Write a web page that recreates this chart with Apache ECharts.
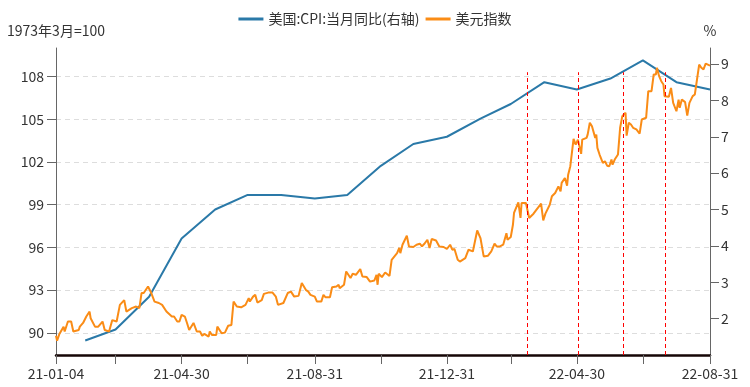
<!DOCTYPE html>
<html>
<head>
<meta charset="utf-8">
<script src="https://cdn.jsdelivr.net/npm/echarts@6/dist/echarts.min.js"></script>
<style>html,body{margin:0;padding:0;background:#fff;}#c{width:750px;height:387px;}</style>
</head>
<body>
<div id="c"></div>
<script>
// ---- data ----
const cpiDates = ['2021-01-31','2021-02-28','2021-03-31','2021-04-30','2021-05-31','2021-06-30','2021-07-31','2021-08-31','2021-09-30','2021-10-31','2021-11-30','2021-12-31','2022-01-31','2022-02-28','2022-03-31','2022-04-30','2022-05-31','2022-06-30','2022-07-31','2022-08-31'];
const cpiValues = [1.4,1.7,2.6,4.2,5.0,5.4,5.4,5.3,5.4,6.2,6.8,7.0,7.5,7.9,8.5,8.3,8.6,9.1,8.5,8.3];

const usdDates = ['2021-01-04','2021-01-05','2021-01-07','2021-01-11','2021-01-12','2021-01-15','2021-01-18','2021-01-20','2021-01-25','2021-01-26','2021-01-29',
'2021-02-01','2021-02-04','2021-02-05','2021-02-09','2021-02-12','2021-02-16','2021-02-18','2021-02-22','2021-02-25',
'2021-03-01','2021-03-04','2021-03-08','2021-03-10','2021-03-15','2021-03-19','2021-03-22','2021-03-24','2021-03-26','2021-03-30',
'2021-04-02','2021-04-05','2021-04-09','2021-04-12','2021-04-16','2021-04-21','2021-04-23','2021-04-26','2021-04-28','2021-04-30',
'2021-05-03','2021-05-05','2021-05-07','2021-05-11','2021-05-14','2021-05-17','2021-05-19','2021-05-21','2021-05-25','2021-05-26','2021-05-28',
'2021-06-01','2021-06-02','2021-06-06','2021-06-09','2021-06-12','2021-06-15','2021-06-17','2021-06-20','2021-06-24','2021-06-28',
'2021-07-01','2021-07-02','2021-07-05','2021-07-07','2021-07-09','2021-07-13','2021-07-15','2021-07-19','2021-07-23','2021-07-26','2021-07-28',
'2021-08-02','2021-08-06','2021-08-09','2021-08-12','2021-08-16','2021-08-19','2021-08-23','2021-08-25','2021-08-27','2021-08-31',
'2021-09-02','2021-09-06','2021-09-08','2021-09-10','2021-09-14','2021-09-16','2021-09-20','2021-09-22','2021-09-23','2021-09-27','2021-09-29',
'2021-10-03','2021-10-05','2021-10-08','2021-10-12','2021-10-14','2021-10-18','2021-10-21','2021-10-25','2021-10-27','2021-10-28','2021-10-29',
'2021-11-01','2021-11-04','2021-11-08','2021-11-10','2021-11-15','2021-11-17','2021-11-18','2021-11-20','2021-11-24','2021-11-26','2021-11-30',
'2021-12-03','2021-12-06','2021-12-08','2021-12-10','2021-12-13','2021-12-15','2021-12-17','2021-12-21','2021-12-24','2021-12-28','2021-12-31',
'2022-01-03','2022-01-05','2022-01-07','2022-01-10','2022-01-12','2022-01-17','2022-01-20','2022-01-24','2022-01-28','2022-01-31',
'2022-02-03','2022-02-07','2022-02-10','2022-02-13','2022-02-15','2022-02-18','2022-02-21','2022-02-24','2022-02-25','2022-02-28',
'2022-03-02','2022-03-03','2022-03-07','2022-03-09','2022-03-10','2022-03-14','2022-03-17','2022-03-21','2022-03-28','2022-03-30',
'2022-04-01','2022-04-05','2022-04-07','2022-04-10','2022-04-11','2022-04-13','2022-04-15','2022-04-16','2022-04-19','2022-04-21','2022-04-22','2022-04-24','2022-04-26','2022-04-27','2022-04-29',
'2022-05-01','2022-05-04','2022-05-05','2022-05-09','2022-05-10','2022-05-12','2022-05-14','2022-05-15','2022-05-17','2022-05-18','2022-05-19','2022-05-21','2022-05-24','2022-05-26','2022-05-28','2022-05-30',
'2022-06-01','2022-06-02','2022-06-04','2022-06-07','2022-06-09','2022-06-11','2022-06-14','2022-06-15','2022-06-17','2022-06-19','2022-06-21','2022-06-24','2022-06-27','2022-06-29','2022-06-30',
'2022-07-03','2022-07-05','2022-07-08','2022-07-10','2022-07-12','2022-07-13','2022-07-15','2022-07-17','2022-07-19','2022-07-20','2022-07-24','2022-07-26','2022-07-28','2022-07-31',
'2022-08-02','2022-08-03','2022-08-05','2022-08-08','2022-08-10','2022-08-12','2022-08-15','2022-08-17','2022-08-19','2022-08-21','2022-08-23','2022-08-25','2022-08-27','2022-08-31'];
const usdValues = [89.8,89.45,89.9,90.44,90.1,90.8,90.8,90.1,90.2,90.44,90.7,
91.15,91.5,91.03,90.44,90.44,90.8,90.2,90.1,90.9,
90.8,91.97,92.3,91.5,91.74,91.85,91.74,92.8,92.8,93.26,
92.8,92.2,92.1,91.97,91.5,91.15,91.15,90.8,90.8,91.27,
91.15,90.7,90.2,90.7,90.1,90.1,89.8,89.93,89.74,90.1,89.86,
89.86,90.44,89.98,90.02,90.5,90.56,92.2,91.85,91.8,91.97,
92.44,92.2,92.55,92.67,92.13,92.3,92.74,92.83,92.83,92.55,91.97,
92.1,92.8,92.9,92.55,92.6,93.5,93.0,92.9,92.67,92.55,
92.2,92.2,92.67,92.5,92.5,93.2,93.26,93.38,93.14,93.38,94.31,
93.85,94.15,94.08,94.48,93.96,93.92,93.6,93.68,94.08,93.38,94.15,
93.92,94.24,94.0,95.13,95.6,95.96,95.6,96.19,96.82,96.07,96.03,
96.19,96.26,96.07,96.24,96.54,95.96,96.59,96.49,96.07,96.03,95.89,
96.19,95.84,95.89,95.13,95.01,95.25,95.84,95.72,97.19,96.66,
95.37,95.42,95.72,96.26,96.07,96.07,96.19,97.0,96.54,96.73,
97.59,98.42,99.16,98.07,99.12,99.12,98.07,98.37,99.07,97.9,
98.37,99.0,99.59,99.82,99.93,100.29,99.93,100.53,100.88,100.34,101.11,101.7,102.99,103.62,103.22,
103.57,102.57,103.57,103.69,103.92,104.75,104.51,104.4,103.69,103.92,102.99,102.52,101.93,102.05,101.74,101.7,
102.17,101.81,102.17,102.52,104.4,105.22,105.45,103.85,104.75,104.63,104.4,104.28,103.99,104.98,105.1,
105.1,106.97,106.97,108.14,108.14,108.61,108.02,107.67,107.44,106.62,106.58,107.2,106.15,105.56,
106.38,105.8,106.38,106.2,105.26,106.15,106.62,106.74,107.79,108.84,108.61,108.5,108.9,108.76];

const xLabelDates = ['2021-01-04','2021-04-30','2021-08-31','2021-12-31','2022-04-30','2022-08-31'];
const xTickDates = ['2021-01-04','2021-02-28','2021-04-30','2021-06-30','2021-08-31','2021-10-31','2021-12-31','2022-02-28','2022-04-30','2022-06-30','2022-08-31'];
const leftTicks = [90,93,96,99,102,105,108];
const rightTicks = [2,3,4,5,6,7,8,9];
const markDates = ['2022-03-15','2022-05-01','2022-06-12','2022-07-21'];

// ---- helpers ----
function ts(s){ const p = s.split('-').map(Number); return new Date(p[0], p[1]-1, p[2]).getTime(); }
function pad(n){ return (n<10?'0':'')+n; }
function fmt(v){ const d = new Date(v); return pad(d.getFullYear()%100)+'-'+pad(d.getMonth()+1)+'-'+pad(d.getDate()); }

const FONT = '"Noto Sans CJK SC", "Microsoft YaHei", sans-serif';
const LEFT_MIN = 88.45, LEFT_MAX = 110;

const chart = echarts.init(document.getElementById('c'), null, {renderer:'canvas'});
chart.setOption({
  animation: false,
  backgroundColor: '#fff',
  textStyle: {fontFamily: FONT},
  legend: {
    top: 7, left: 'center', icon: 'rect', itemWidth: 25, itemHeight: 3, itemGap: 6,
    textStyle: {fontSize: 14, color: '#333', fontFamily: FONT},
    data: ['美国:CPI:当月同比(右轴)', '美元指数']
  },
  grid: {left: 56, right: 40, top: 48, bottom: 32, containLabel: false},
  xAxis: {
    type: 'value',
    min: ts(xTickDates[0]), max: ts(xTickDates[xTickDates.length-1]),
    axisLine: {show: true, onZero: false, lineStyle: {color: '#150505', width: 2.5}},
    axisTick: {show: true, length: 9, customValues: xTickDates.map(ts), lineStyle: {color: '#666'}},
    axisLabel: {customValues: xLabelDates.map(ts), formatter: fmt, fontSize: 14, color: '#333', margin: 12, fontFamily: FONT},
    splitLine: {show: false}
  },
  yAxis: [
    {
      type: 'value', name: '1973年3月=100', nameGap: 10,
      nameTextStyle: {fontSize: 14, color: '#333', fontFamily: FONT},
      min: LEFT_MIN, max: LEFT_MAX,
      axisLine: {show: true, lineStyle: {color: '#666'}},
      axisTick: {show: true, length: 9, customValues: leftTicks, lineStyle: {color: '#666'}},
      axisLabel: {customValues: leftTicks, fontSize: 14, color: '#333', margin: 12, fontFamily: FONT},
      splitLine: {show: true, lineStyle: {color: '#ddd', type: [5, 4]}}
    },
    {
      type: 'value', name: '%', nameGap: 10, position: 'right',
      nameTextStyle: {fontSize: 14, color: '#333', fontFamily: FONT},
      min: 1, max: 9.44,
      axisLine: {show: true, lineStyle: {color: '#666'}},
      axisTick: {show: true, length: 9, customValues: rightTicks, lineStyle: {color: '#666'}},
      axisLabel: {customValues: rightTicks, fontSize: 14, color: '#333', margin: 11, fontFamily: FONT},
      splitLine: {show: false}
    }
  ],
  series: [
    {
      name: '美国:CPI:当月同比(右轴)', type: 'line', yAxisIndex: 1,
      symbol: 'none', showSymbol: false,
      data: cpiDates.map((d,i)=>[ts(d), cpiValues[i]]),
      lineStyle: {color: '#2a79a8', width: 2}, itemStyle: {color: '#2a79a8'}
    },
    {
      name: '美元指数', type: 'line', yAxisIndex: 0,
      symbol: 'none', showSymbol: false,
      data: usdDates.map((d,i)=>[ts(d), usdValues[i]]),
      lineStyle: {color: '#fa8c16', width: 2}, itemStyle: {color: '#fa8c16'},
      markLine: {
        silent: true, symbol: ['none','none'], label: {show: false},
        lineStyle: {color: '#ff0000', type: [4, 3], width: 1},
        data: markDates.map(d => [{coord: [ts(d), LEFT_MIN]}, {coord: [ts(d), 108.3]}])
      }
    }
  ]
});
</script>
</body>
</html>
